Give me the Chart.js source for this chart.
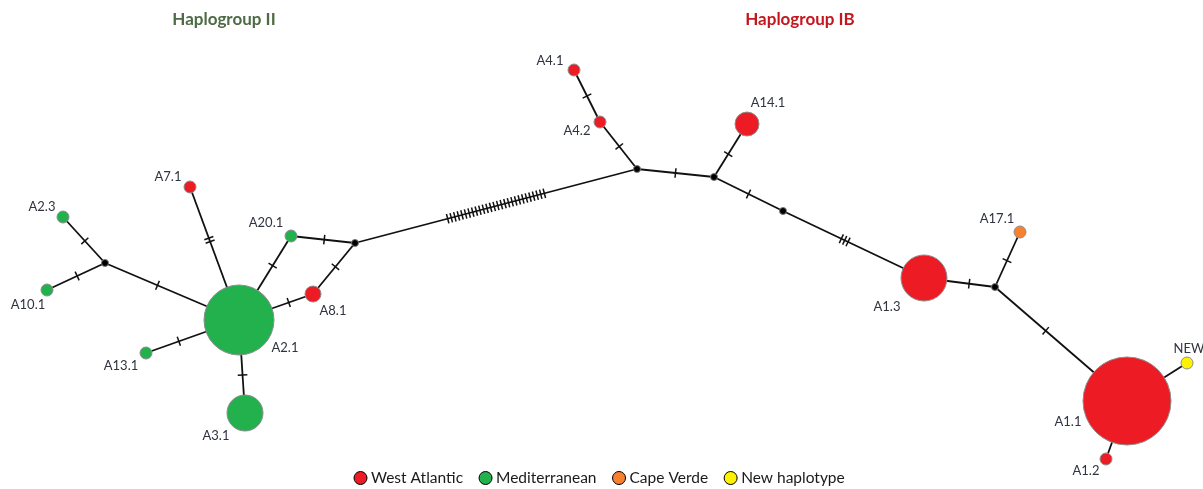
<!DOCTYPE html>
<html>
<head>
<meta charset="utf-8">
<title>Haplotype network</title>
<script src="https://cdn.jsdelivr.net/npm/chart.js@4/dist/chart.umd.min.js"></script>
<style>
  html, body { margin: 0; padding: 0; background: #ffffff; overflow: hidden; }
  #wrap { width: 1203px; height: 489px; position: relative; overflow: hidden; }
  #net { position: absolute; left: -60px; top: -60px; }
</style>
</head>
<body>
<div id="wrap"><canvas id="net" width="1323" height="609"></canvas></div>
<script>
// Haplotypes: network layout coordinates, circle size (frequency) and sampling region
const haplotypes = ['A2.1', 'A3.1', 'A13.1', 'A10.1', 'A2.3', 'A7.1', 'A20.1', 'A8.1',
                    'A4.1', 'A4.2', 'A14.1', 'A1.3', 'A17.1', 'A1.1', 'NEW', 'A1.2'];
const hapX      = [239, 245, 146, 47, 63, 190, 291, 313, 574, 600, 747, 924, 1020, 1127, 1187, 1106];
const hapY      = [320, 413, 353, 290, 217, 187, 236, 294, 70, 122, 124, 278, 232, 401, 363, 459];
const hapSize   = [35, 18, 6, 6, 6, 6, 6, 8, 6, 6, 12, 23, 6, 44, 6, 6];
const hapRegion = ['Mediterranean', 'Mediterranean', 'Mediterranean', 'Mediterranean', 'Mediterranean',
                   'West Atlantic', 'Mediterranean', 'West Atlantic', 'West Atlantic', 'West Atlantic',
                   'West Atlantic', 'West Atlantic', 'Cape Verde', 'West Atlantic', 'New haplotype', 'West Atlantic'];

// Median vectors (inferred, unsampled nodes)
const medianIds = ['mv1', 'mv2', 'mv3', 'mv4', 'mv5', 'mv6'];
const medianX   = [105, 355, 637, 714, 783, 995];
const medianY   = [263, 243, 169, 177, 211, 287];

// Network links and the number of mutational steps on each
const edgeFrom  = ['A2.3', 'A10.1', 'mv1', 'A7.1', 'A13.1', 'A3.1', 'A20.1', 'A8.1', 'A20.1', 'A8.1', 'mv2',
                   'mv3', 'A4.2', 'mv3', 'mv4', 'mv4', 'mv5', 'A1.3', 'mv6', 'mv6', 'A1.1', 'A1.1'];
const edgeTo    = ['mv1', 'mv1', 'A2.1', 'A2.1', 'A2.1', 'A2.1', 'A2.1', 'A2.1', 'mv2', 'mv2', 'mv3',
                   'A4.2', 'A4.1', 'mv4', 'A14.1', 'mv5', 'A1.3', 'mv6', 'A17.1', 'A1.1', 'NEW', 'A1.2'];
const edgeSteps = [1, 1, 1, 2, 1, 1, 1, 1, 1, 1, 28, 1, 1, 1, 1, 1, 3, 1, 1, 1, 0, 0];

// Legend categories and group headings
const regions     = ['West Atlantic', 'Mediterranean', 'Cape Verde', 'New haplotype'];
const groupTitles = ['Haplogroup II', 'Haplogroup IB'];

// ---- presentation ----
const MARGIN = 60;          // canvas extends this far past the visible frame on every side
const VIEW_W = 1203, VIEW_H = 489;
const regionColor = {
  'West Atlantic': '#ed1c24',
  'Mediterranean': '#22b14c',
  'Cape Verde': '#f7812f',
  'New haplotype': '#fff200'
};
const titleColor = ['#4e6b45', '#c4161e'];
const titlePos = [[224, 20], [800, 20]];
const legendStart = [354, 478];
// label offsets from each haplotype centre (px)
const labelDX = [46, -29, -25, -19, -21, -22, -25, 20, -24, -23, 21, -37, -23, -59, 2, -20];
const labelDY = [28, 23, 13, 15, -10, -10, -13, 17, -9, 9, -21, 29, -13, 21, -14, 12];

// lookup of every node (haplotypes + median vectors)
const nodes = {};
haplotypes.forEach((h, i) => { nodes[h] = { x: hapX[i], y: hapY[i], r: hapSize[i] }; });
medianIds.forEach((m, i) => { nodes[m] = { x: medianX[i], y: medianY[i], r: 3.5 }; });

const datasets = [];

// edges as two-point line series
edgeFrom.forEach((f, i) => {
  const a = nodes[f], b = nodes[edgeTo[i]];
  datasets.push({
    type: 'line',
    data: [{ x: a.x, y: a.y }, { x: b.x, y: b.y }],
    borderColor: '#111111',
    borderWidth: 1.8,
    pointRadius: 0,
    fill: false,
    order: 5,
    clip: false
  });
});

// haplotype circles, one series per region
regions.forEach(reg => {
  datasets.push({
    type: 'bubble',
    label: reg,
    data: haplotypes.map((h, i) => ({ x: hapX[i], y: hapY[i], r: hapSize[i], reg: hapRegion[i] }))
                    .filter(d => d.reg === reg),
    backgroundColor: regionColor[reg],
    borderColor: '#8c8c8c',
    borderWidth: 1,
    order: 1,
    clip: false
  });
});

// median vectors
datasets.push({
  type: 'bubble',
  label: 'median vector',
  data: medianIds.map((m, i) => ({ x: medianX[i], y: medianY[i], r: 3.5 })),
  backgroundColor: '#000000',
  borderColor: '#7a7a7a',
  borderWidth: 1,
  order: 0,
  clip: false
});

// mutation hatch marks on each link
const mutationTicks = {
  id: 'mutationTicks',
  afterDatasetsDraw(chart) {
    const { ctx, scales: { x, y } } = chart;
    ctx.save();
    ctx.strokeStyle = '#111111';
    ctx.lineWidth = 1.5;
    edgeFrom.forEach((f, i) => {
      const n = edgeSteps[i];
      if (!n) return;
      const a = nodes[f], b = nodes[edgeTo[i]];
      const ax = x.getPixelForValue(a.x), ay = y.getPixelForValue(a.y);
      const bx = x.getPixelForValue(b.x), by = y.getPixelForValue(b.y);
      const len = Math.hypot(bx - ax, by - ay);
      const ux = (bx - ax) / len, uy = (by - ay) / len;
      const s0 = a.r, s1 = len - b.r;
      const mid = (s0 + s1) / 2;
      const gap = 3.7, half = 4.8;
      for (let k = 0; k < n; k++) {
        const s = mid + (k - (n - 1) / 2) * gap;
        const cx = ax + ux * s, cy = ay + uy * s;
        ctx.beginPath();
        ctx.moveTo(cx - uy * half, cy + ux * half);
        ctx.lineTo(cx + uy * half, cy - ux * half);
        ctx.stroke();
      }
    });
    ctx.restore();
  }
};

// haplotype names, group headings and the region legend
const annotations = {
  id: 'annotations',
  afterDraw(chart) {
    const { ctx, scales: { x, y } } = chart;
    const px = v => x.getPixelForValue(v), py = v => y.getPixelForValue(v);
    ctx.save();
    ctx.textAlign = 'center';
    ctx.textBaseline = 'middle';
    ctx.fillStyle = '#2f3440';
    ctx.font = '13px Lato, "Open Sans", sans-serif';
    haplotypes.forEach((h, i) => {
      ctx.fillText(h, px(hapX[i]) + labelDX[i], py(hapY[i]) + labelDY[i]);
    });

    ctx.font = 'bold 17px Lato, "Open Sans", sans-serif';
    groupTitles.forEach((t, i) => {
      ctx.fillStyle = titleColor[i];
      ctx.fillText(t, px(titlePos[i][0]), py(titlePos[i][1]));
    });

    // legend row
    ctx.font = '15.5px Lato, "Open Sans", sans-serif';
    ctx.textAlign = 'left';
    let lx = px(legendStart[0]);
    const ly = py(legendStart[1]), rr = 6.5;
    regions.forEach(reg => {
      ctx.beginPath();
      ctx.arc(lx + rr, ly, rr, 0, Math.PI * 2);
      ctx.fillStyle = regionColor[reg];
      ctx.fill();
      ctx.lineWidth = 1;
      ctx.strokeStyle = '#000000';
      ctx.stroke();
      ctx.fillStyle = '#1a1a1a';
      const tx = lx + rr * 2 + 4;
      ctx.fillText(reg, tx, ly);
      lx = tx + ctx.measureText(reg).width + 16;
    });
    ctx.restore();
  }
};

const chart = new Chart(document.getElementById('net'), {
  type: 'bubble',
  data: { datasets },
  options: {
    responsive: false,
    maintainAspectRatio: false,
    animation: false,
    events: [],
    layout: { padding: 0 },
    plugins: { legend: { display: false }, tooltip: { enabled: false } },
    scales: {
      x: { type: 'linear', min: 0, max: VIEW_W, display: false },
      y: { type: 'linear', min: 0, max: VIEW_H, reverse: true, display: false }
    }
  },
  plugins: [mutationTicks, annotations]
});

// The bubble controller reserves room for the largest circle around the plot
// area; set the axis ranges so one unit equals one pixel of the visible frame.
const area = chart.chartArea;
chart.options.scales.x.min = area.left - MARGIN;
chart.options.scales.x.max = area.left - MARGIN + area.width;
chart.options.scales.y.min = area.top - MARGIN;
chart.options.scales.y.max = area.top - MARGIN + area.height;
chart.update('none');
</script>
</body>
</html>
